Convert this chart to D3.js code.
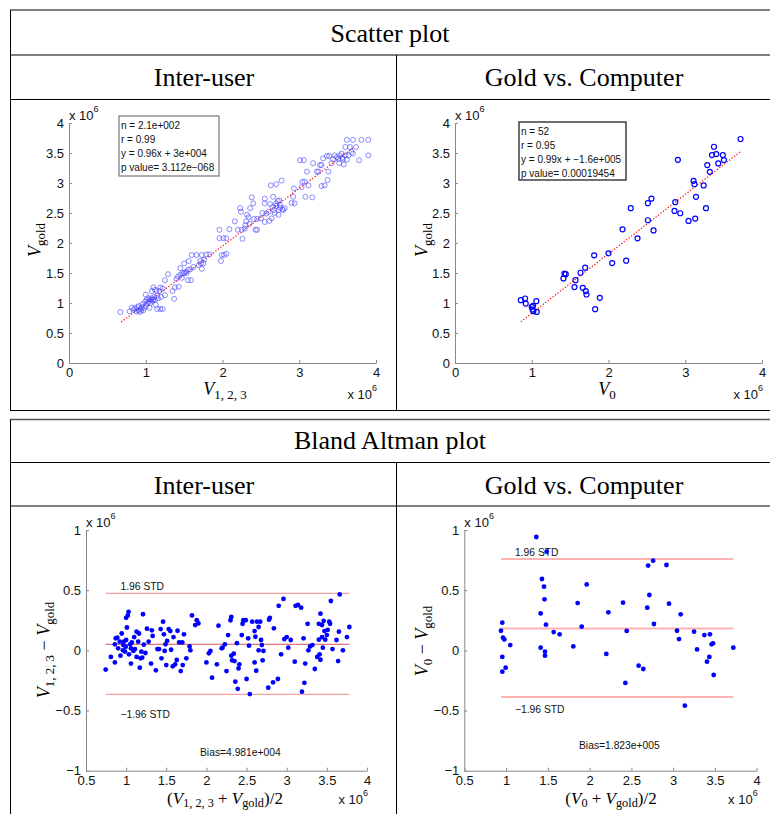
<!DOCTYPE html>
<html>
<head>
<meta charset="utf-8">
<script src="https://cdn.jsdelivr.net/npm/d3@7"></script>
<style>
  body { margin: 0; background: #fff; }
  svg { display: block; }
</style>
</head>
<body>
<svg id="fig" width="770" height="814"></svg>
<script>
// all volumes are in units of 10^6

// scatter, inter-user: V_{1,2,3} vs V_gold
const interX = [0.67,0.79,0.82,0.84,0.86,0.88,0.89,0.90,0.91,0.92,0.93,0.94,0.95,0.96,0.97,0.98,0.99,1.00,1.00,1.01,
  1.02,1.03,1.04,1.05,1.05,1.06,1.07,1.08,1.08,1.09,1.10,1.10,1.11,1.12,1.12,1.13,1.14,1.15,1.15,1.16,
  1.18,1.19,1.19,1.20,1.22,1.22,1.25,1.25,1.29,1.35,1.37,1.38,1.40,1.42,1.43,1.45,1.45,1.47,1.48,1.50,
  1.50,1.52,1.53,1.55,1.55,1.56,1.58,1.59,1.60,1.62,1.66,1.69,1.71,1.72,1.73,1.73,1.75,1.76,1.79,1.83,
  1.96,1.96,1.98,1.99,2.01,2.02,2.05,2.05,2.09,2.16,2.20,2.23,2.24,2.25,2.26,2.29,2.30,2.31,2.32,2.34,
  2.35,2.36,2.38,2.40,2.41,2.43,2.45,2.45,2.50,2.52,2.55,2.55,2.55,2.57,2.60,2.61,2.62,2.63,2.64,2.65,
  2.66,2.67,2.68,2.70,2.70,2.70,2.72,2.73,2.73,2.74,2.75,2.75,2.77,2.78,2.79,2.81,2.90,2.92,2.93,2.94,
  3.01,3.03,3.04,3.06,3.07,3.08,3.10,3.12,3.17,3.18,3.23,3.25,3.27,3.29,3.29,3.31,3.33,3.36,3.37,3.38,
  3.39,3.42,3.44,3.46,3.49,3.51,3.52,3.53,3.55,3.56,3.57,3.58,3.60,3.60,3.62,3.62,3.64,3.66,3.68,3.70,
  3.70,3.74,3.78,3.81,3.90,3.90];
const interY = [0.85,0.86,0.92,0.89,0.91,0.86,0.93,0.88,0.95,0.85,0.90,0.87,0.93,0.98,0.88,0.92,1.02,0.95,1.14,1.05,
  0.99,1.08,1.02,1.06,0.92,1.00,1.05,1.08,1.20,1.04,1.06,1.26,1.10,1.05,1.22,0.97,1.20,1.12,0.90,1.08,
  1.20,0.90,1.26,1.10,0.90,1.24,1.38,1.13,1.48,1.20,1.07,1.26,1.40,1.44,1.27,1.58,1.47,1.42,1.50,1.66,
  1.50,1.52,1.50,1.38,1.55,1.70,1.56,1.38,1.80,1.60,1.80,1.63,1.70,1.66,1.80,1.57,1.66,1.72,1.81,1.81,
  2.22,2.08,1.70,1.80,2.08,1.80,1.82,2.08,2.23,2.36,2.22,2.58,2.52,2.22,2.07,2.24,2.30,2.36,2.47,2.43,
  2.32,2.58,2.76,2.66,2.40,2.22,2.22,2.40,2.41,2.50,2.74,2.66,2.35,2.49,2.52,2.37,2.65,2.96,2.41,2.60,
  2.77,2.55,2.50,2.98,2.66,2.62,2.70,2.55,2.47,2.71,2.59,2.64,3.04,2.56,2.55,2.58,2.67,2.77,2.91,2.66,
  3.38,2.93,3.02,3.38,3.02,2.77,3.19,2.96,2.76,3.33,3.19,3.19,3.30,3.30,2.95,3.41,2.96,3.45,3.05,3.19,
  3.45,3.33,3.40,3.46,3.43,3.40,3.33,3.46,3.49,3.42,3.40,3.31,3.46,3.60,3.72,3.39,3.46,3.60,3.52,3.72,
  3.49,3.60,3.38,3.72,3.72,3.46];
const interStats = ["n = 2.1e+002", "r = 0.99", "y = 0.96x + 3e+004", "p value= 3.112e\u2212068"];
const interFit = { slope: 0.96, intercept: 0.03, from: 0.68, to: 3.71 };

// scatter, gold vs. computer: V_0 vs V_gold
const goldX = [0.857,0.913,0.922,1.000,1.010,1.017,1.020,1.060,1.065,1.413,1.426,1.443,1.557,1.570,1.635,1.665,1.696,1.704,1.713,1.813,
  1.826,1.887,2.000,2.048,2.183,2.230,2.290,2.378,2.513,2.513,2.560,2.587,2.860,2.870,2.904,2.935,3.043,3.108,3.120,3.130,
  3.140,3.240,3.270,3.287,3.320,3.348,3.374,3.404,3.430,3.490,3.504,3.720];
const goldY = [1.047,1.075,0.990,0.936,0.891,0.953,0.864,1.030,0.852,1.410,1.490,1.480,1.265,1.380,1.504,1.253,1.588,1.198,1.142,1.794,
  0.897,1.086,1.827,1.666,2.228,1.705,2.580,2.078,2.663,2.379,2.740,2.210,2.535,2.680,3.387,2.496,2.368,3.036,2.980,2.407,
  2.770,2.960,2.580,3.298,3.187,3.465,3.604,3.482,3.326,3.465,3.382,3.733];
const goldStats = ["n = 52", "r = 0.95", "y = 0.99x + \u22121.6e+005", "p value= 0.00019454"];
const goldFit = { slope: 0.99, intercept: -0.16, from: 0.857, to: 3.72 };

// Bland-Altman, inter-user: mean vs difference
const baInterMean = [0.745,0.81,0.86,0.86,0.87,0.89,0.90,0.92,0.93,0.945,0.96,0.965,0.97,0.985,0.995,1.00,1.00,1.01,1.02,1.03,
  1.035,1.05,1.06,1.06,1.07,1.09,1.10,1.11,1.13,1.13,1.15,1.16,1.17,1.18,1.19,1.20,1.21,1.22,1.24,1.26,
  1.28,1.31,1.32,1.33,1.37,1.39,1.41,1.43,1.44,1.46,1.47,1.48,1.49,1.50,1.51,1.53,1.55,1.56,1.58,1.59,
  1.61,1.63,1.64,1.66,1.68,1.70,1.705,1.72,1.75,1.79,1.80,1.82,1.86,1.88,1.90,2.00,2.03,2.05,2.07,2.13,
  2.15,2.19,2.20,2.23,2.25,2.27,2.30,2.31,2.31,2.32,2.34,2.35,2.36,2.38,2.39,2.40,2.41,2.44,2.45,2.46,
  2.49,2.50,2.52,2.53,2.54,2.57,2.60,2.60,2.61,2.62,2.63,2.65,2.65,2.67,2.68,2.69,2.70,2.71,2.77,2.78,
  2.79,2.83,2.84,2.89,2.90,2.93,2.96,2.97,3.00,3.02,3.05,3.10,3.11,3.14,3.18,3.19,3.21,3.22,3.23,3.26,
  3.27,3.29,3.32,3.35,3.38,3.40,3.40,3.41,3.42,3.42,3.44,3.44,3.45,3.46,3.47,3.48,3.50,3.51,3.53,3.54,
  3.55,3.57,3.62,3.64,3.65,3.66,3.70,3.75,3.78];
const baInterDiff = [-0.16,-0.055,0.05,-0.10,0.10,0.105,0.017,0.072,-0.044,0.14,0.0,0.044,0.072,-0.01,0.03,0.086,0.27,0.19,0.29,0.32,
  -0.033,0.05,0.017,-0.11,0.066,-0.005,0.11,0.011,0.155,-0.055,0.072,0.14,-0.144,-0.066,-0.011,-0.06,0.30,0.047,-0.022,0.18,
  0.072,-0.11,0.166,0.12,-0.166,0.011,0.011,0.177,-0.066,0.238,0.133,-0.005,0.05,-0.122,0.078,0.177,0.16,0.005,-0.133,0.11,
  -0.116,-0.08,0.163,0.066,-0.172,0.066,-0.122,0.133,-0.066,0.033,0.0,0.29,0.21,0.25,0.224,-0.10,-0.025,-0.005,-0.227,-0.116,
  0.205,0.017,0.022,0.05,-0.172,0.127,0.25,0.277,-0.044,-0.083,-0.028,-0.089,-0.26,0.06,-0.32,-0.15,-0.116,0.127,0.22,0.25,
  0.25,-0.238,0.10,0.039,-0.363,0.238,-0.10,0.16,0.113,-0.169,0.238,0.0,0.194,0.238,0.086,0.044,-0.083,-0.005,-0.31,0.255,
  0.27,-0.266,0.183,-0.238,0.37,-0.033,0.427,0.094,0.11,0.022,0.086,-0.094,0.37,0.377,0.355,-0.343,0.10,-0.27,-0.11,0.22,
  0.0,0.033,0.044,-0.155,-0.055,0.089,0.22,-0.033,0.305,-0.078,0.11,0.21,0.022,0.244,0.16,0.089,0.127,0.17,0.238,0.22,
  0.41,0.011,0.086,-0.089,0.155,0.465,0.0,0.11,0.194];
const baInterLimits = [0.474, 0.0498, -0.366];   // +1.96 STD, bias, -1.96 STD
const baInterBias = "Bias=4.981e+004";

// Bland-Altman, gold vs. computer
const baGoldMean = [0.939,0.955,0.955,0.955,0.963,0.979,0.995,1.05,1.362,1.414,1.414,1.43,1.454,1.46,1.466,1.466,1.478,1.486,1.57,1.641,
  1.805,1.857,1.905,1.965,2.20,2.224,2.40,2.428,2.444,2.587,2.643,2.69,2.70,2.715,2.76,2.77,2.92,2.95,3.046,3.07,
  3.09,3.14,3.25,3.286,3.373,3.405,3.433,3.44,3.46,3.477,3.485,3.72];
const baGoldDiff = [0.163,0.23,-0.055,-0.177,0.105,0.091,-0.144,0.044,0.942,0.307,0.022,0.593,0.529,0.424,-0.011,-0.044,0.213,0.82,0.152,0.133,
  0.033,0.393,0.197,0.548,-0.03,0.316,0.396,-0.271,0.161,-0.127,-0.155,0.355,0.704,0.46,0.745,0.219,0.709,0.388,0.163,0.094,
  0.299,-0.46,0.155,0.008,0.127,-0.094,-0.055,0.133,0.05,0.058,-0.205,0.022];
const baGoldLimits = [0.759, 0.1823, -0.388];
const baGoldBias = "Bias=1.823e+005";

const scatterXTicks = [0, 1, 2, 3, 4];
const scatterYTicks = [0, 0.5, 1, 1.5, 2, 2.5, 3, 3.5, 4];
const baXTicks = [0.5, 1, 1.5, 2, 2.5, 3, 3.5, 4];
const baYTicks = [-1, -0.5, 0, 0.5, 1];

const svg = d3.select("#fig");
svg.append("rect").attr("width", 770).attr("height", 814).attr("fill", "#fff");

const SANS = "'Liberation Sans', Arial, Helvetica, sans-serif";
const SERIF = "'Liberation Serif', 'Times New Roman', serif";
const fmt = d3.format("~g");

// ---- table frame ----
const frame = svg.append("g").attr("stroke", "#000").attr("fill", "none");
[[10, 1.6, "#555"], [55, 1, "#000"], [99.5, 1, "#000"], [410.5, 1, "#000"],
 [419.5, 1.6, "#555"], [462.5, 1, "#000"], [506, 1, "#000"]].forEach(([yy, w, c]) => {
  frame.append("line").attr("x1", 10).attr("x2", 770).attr("y1", yy).attr("y2", yy)
    .attr("stroke-width", w).attr("stroke", c);
});
frame.append("line").attr("x1", 10.5).attr("x2", 10.5).attr("y1", 10).attr("y2", 410.5);
frame.append("line").attr("x1", 10.5).attr("x2", 10.5).attr("y1", 419.5).attr("y2", 814);
frame.append("line").attr("x1", 396.5).attr("x2", 396.5).attr("y1", 55).attr("y2", 410.5);
frame.append("line").attr("x1", 396.5).attr("x2", 396.5).attr("y1", 462.5).attr("y2", 814);

const titles = [
  ["Scatter plot", 390, 42], ["Inter-user", 204, 86], ["Gold vs. Computer", 584, 86],
  ["Bland Altman plot", 390, 449], ["Inter-user", 204, 494], ["Gold vs. Computer", 584, 494]
];
svg.selectAll("text.title").data(titles).join("text")
  .attr("class", "title")
  .attr("x", d => d[1]).attr("y", d => d[2])
  .attr("text-anchor", "middle")
  .attr("font-family", SERIF).attr("font-size", 26).attr("fill", "#000")
  .text(d => d[0]);

// math-ish label: parts of [text, kind]; kind "i" italic, "s" subscript, "r" roman
function mathLabel(g, parts, size) {
  const t = g.append("text").attr("font-family", SERIF).attr("font-size", size)
    .attr("text-anchor", "middle").attr("fill", "#000");
  const shift = size * 0.2;
  let inSub = false;
  parts.forEach(([s, k]) => {
    const ts = t.append("tspan").text(s);
    if (k === "i") ts.attr("font-style", "italic");
    if (k === "s" && !inSub) { ts.attr("dy", shift).attr("font-size", size * 0.72); inSub = true; }
    else if (k === "s") ts.attr("font-size", size * 0.72);
    else if (inSub) { ts.attr("dy", -shift); inSub = false; }
  });
  return t;
}

function exponent(g, x, y, anchor) {
  const t = g.append("text").attr("x", x).attr("y", y).attr("text-anchor", anchor)
    .attr("font-family", SANS).attr("font-size", 13).attr("fill", "#111");
  t.append("tspan").text("x 10");
  t.append("tspan").attr("dy", -8).attr("font-size", 9).text("6");
}

function drawPanel(p) {
  const g = svg.append("g");
  const x = d3.scaleLinear().domain(p.xDomain).range(p.xRange);
  const y = d3.scaleLinear().domain(p.yDomain).range(p.yRange);

  const styleAxis = (sel) => {
    sel.selectAll("path.domain").attr("stroke", "#888");
    sel.selectAll(".tick line").attr("stroke", "#888");
    sel.selectAll("text").attr("font-family", SANS).attr("font-size", 13).attr("fill", "#111");
  };

  g.append("g").attr("transform", `translate(0,${p.yRange[0]})`)
    .call(d3.axisBottom(x).tickValues(p.xTicks).tickFormat(fmt).tickSizeInner(-3).tickSizeOuter(0).tickPadding(5))
    .call(styleAxis);
  g.append("g").attr("transform", `translate(${p.xRange[0]},0)`)
    .call(d3.axisLeft(y).tickValues(p.yTicks).tickFormat(fmt).tickSizeInner(-3).tickSizeOuter(0).tickPadding(5))
    .call(styleAxis);

  exponent(g, p.xRange[0], p.yRange[1] - 3, "start");
  exponent(g, p.xRange[1] + 1, p.xExpY, "end");

  mathLabel(g, p.xLabel, p.xLabelSize).attr("x", p.xLabelPos[0]).attr("y", p.xLabelPos[1]);
  mathLabel(g, p.yLabel, 18).attr("transform", `translate(${p.yLabelPos[0]},${p.yLabelPos[1]}) rotate(-90)`);

  return { g, x, y };
}

// ---- scatter panels ----
function scatter(p, xs, ys, stats, fit, mark) {
  const { g, x, y } = drawPanel(p);
  const pts = xs.map((v, i) => [v, ys[i]]);
  g.append("line")
    .attr("x1", x(fit.from)).attr("y1", y(fit.slope * fit.from + fit.intercept))
    .attr("x2", x(fit.to)).attr("y2", y(fit.slope * fit.to + fit.intercept))
    .attr("stroke", "#ff1a1a").attr("stroke-width", 1.3).attr("stroke-dasharray", "1.3,1.8");
  g.selectAll("circle.pt").data(pts).join("circle")
    .attr("class", "pt")
    .attr("cx", d => x(d[0])).attr("cy", d => y(d[1])).attr("r", mark.r)
    .attr("fill", "none").attr("stroke", mark.color).attr("stroke-width", mark.w)
    .attr("stroke-opacity", mark.op);
  const b = p.box;
  g.append("rect").attr("x", b.x).attr("y", b.y).attr("width", b.w).attr("height", b.h)
    .attr("fill", "#fff").attr("stroke", b.stroke).attr("stroke-width", b.sw);
  g.selectAll("text.stat").data(stats).join("text")
    .attr("class", "stat")
    .attr("x", b.x + 2).attr("y", (d, i) => b.y + 12.5 + i * 14.3)
    .attr("font-family", SANS).attr("font-size", 10).attr("fill", "#111")
    .text(d => d);
}

const vGold = [["V", "i"], ["gold", "s"]];

scatter({
  xDomain: [0, 4], yDomain: [0, 4], xRange: [69, 376], yRange: [363, 123],
  xTicks: scatterXTicks, yTicks: scatterYTicks, xExpY: 399,
  xLabel: [["V", "i"], ["1, 2, 3", "s"]], xLabelPos: [225, 395], xLabelSize: 18,
  yLabel: vGold, yLabelPos: [41, 240],
  box: { x: 119, y: 116, w: 100, h: 60, stroke: "#777", sw: 1.2 }
}, interX, interY, interStats, interFit, { r: 2.5, color: "#4a4aff", w: 0.8, op: 0.8 });

scatter({
  xDomain: [0, 4], yDomain: [0, 4], xRange: [455, 762], yRange: [363, 123],
  xTicks: scatterXTicks, yTicks: scatterYTicks, xExpY: 399,
  xLabel: [["V", "i"], ["0", "s"]], xLabelPos: [607, 395], xLabelSize: 18,
  yLabel: vGold, yLabelPos: [428, 240],
  box: { x: 519, y: 122, w: 107, h: 58, stroke: "#222", sw: 1.3 }
}, goldX, goldY, goldStats, goldFit, { r: 2.5, color: "#0000ff", w: 1.2, op: 1 });

// ---- Bland-Altman panels ----
function blandAltman(p, means, diffs, limits, biasText, lineStyle) {
  const { g, x, y } = drawPanel(p);
  const [lo, hi] = d3.extent(means);
  g.selectAll("line.lim").data(limits).join("line")
    .attr("class", "lim")
    .attr("x1", x(lo)).attr("x2", x(hi)).attr("y1", d => y(d)).attr("y2", d => y(d))
    .attr("stroke", (d, i) => i === 1 ? lineStyle.mid : lineStyle.color)
    .attr("stroke-width", lineStyle.w);
  g.selectAll("circle.pt").data(means.map((m, i) => [m, diffs[i]])).join("circle")
    .attr("class", "pt")
    .attr("cx", d => x(d[0])).attr("cy", d => y(d[1])).attr("r", 2.4)
    .attr("fill", "#0000ff");
  const labels = [["1.96 STD"].concat(p.upLab), ["\u22121.96 STD"].concat(p.dnLab), [biasText].concat(p.biasLab)];
  g.selectAll("text.lab").data(labels).join("text")
    .attr("class", "lab")
    .attr("x", d => x(d[1])).attr("y", d => y(d[2]))
    .attr("dy", "0.35em")
    .attr("font-family", SANS).attr("font-size", 10.3).attr("fill", "#111")
    .text(d => d[0]);
}

blandAltman({
  xDomain: [0.5, 4], yDomain: [-1, 1], xRange: [86, 367], yRange: [770.7, 530],
  xTicks: baXTicks, yTicks: baYTicks, xExpY: 804,
  xLabel: [["(", "r"], ["V", "i"], ["1, 2, 3", "s"], [" + ", "r"], ["V", "i"], ["gold", "s"], [")/2", "r"]],
  xLabelPos: [225, 804], xLabelSize: 17,
  yLabel: [["V", "i"], ["1, 2, 3", "s"], [" \u2212 ", "r"], ["V", "i"], ["gold", "s"]],
  yLabelPos: [50, 650],
  upLab: [0.93, 0.529], dnLab: [0.93, -0.529], biasLab: [1.92, -0.845]
}, baInterMean, baInterDiff, baInterLimits, baInterBias, { color: "#f5a0a0", mid: "#e27676", w: 1.3 });

blandAltman({
  xDomain: [0.5, 4], yDomain: [-1, 1], xRange: [464.3, 756.7], yRange: [770.7, 530],
  xTicks: baXTicks, yTicks: baYTicks, xExpY: 804,
  xLabel: [["(", "r"], ["V", "i"], ["0", "s"], [" + ", "r"], ["V", "i"], ["gold", "s"], [")/2", "r"]],
  xLabelPos: [611, 804], xLabelSize: 17,
  yLabel: [["V", "i"], ["0", "s"], [" \u2212 ", "r"], ["V", "i"], ["gold", "s"]],
  yLabelPos: [428, 641],
  upLab: [1.107, 0.811], dnLab: [1.107, -0.487], biasLab: [1.873, -0.786]
}, baGoldMean, baGoldDiff, baGoldLimits, baGoldBias, { color: "#ffb3b3", mid: "#ffb3b3", w: 2 });
</script>
</body>
</html>
